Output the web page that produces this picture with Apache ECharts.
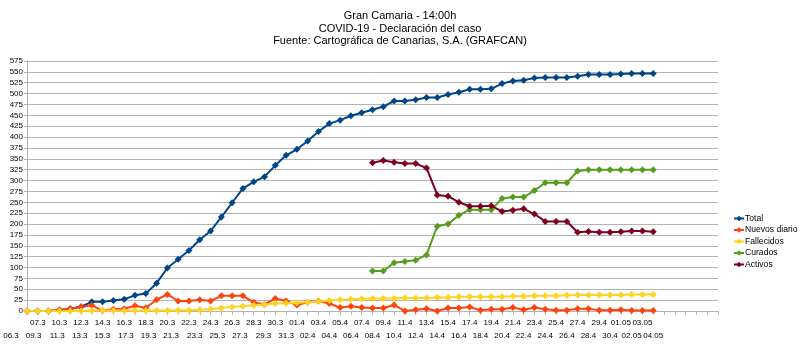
<!DOCTYPE html>
<html>
<head>
<meta charset="utf-8">
<script src="https://cdn.jsdelivr.net/npm/echarts@6/dist/echarts.min.js"></script>
<style>
html,body{margin:0;padding:0;background:#fff;}
#chart{width:800px;height:346px;}
</style>
</head>
<body>
<div id="chart"></div>
<script>
// Categories (08.3 is absent in the source data)
var dates = ['06.3','07.3','09.3','10.3','11.3','12.3','13.3','14.3','15.3','16.3','17.3','18.3','19.3','20.3','21.3','22.3','23.3','24.3','25.3','26.3','27.3','28.3','29.3','30.3','31.3',
  '01.4','02.4','03.4','04.4','05.4','06.4','07.4','08.4','09.4','10.4','11.4','12.4','13.4','14.4','15.4','16.4','17.4','18.4','19.4','20.4','21.4','22.4','23.4','24.4','25.4','26.4','27.4','28.4','29.4','30.4',
  '01.05','02.05','03.05','04.05'];
var seriesNames = ['Total','Nuevos diario','Fallecidos','Curados','Activos'];
var total = [0,0,0,2,5,10,21,21,24,27,36,40,64,99,119,139,164,184,216,249,282,297,309,335,358,
  372,391,413,431,439,449,456,463,470,483,483,486,491,491,498,503,510,510,511,523,529,531,536,537,537,537,540,544,544,544,
  545,546,546,546];
var nuevos = [0,0,0,3,5,9,13,1,4,5,12,7,26,38,23,23,26,23,35,35,35,20,15,29,23,
  14,20,23,17,8,11,8,7,7,14,0,3,5,0,7,7,9,2,4,4,8,3,8,4,2,2,5,5,2,2,
  3,1,1,1];
var fallecidos = [0,0,0,0,0,0,1,1,1,1,1,1,1,1,2,2,3,4,7,9,11,13,15,17,18,
  19,20,22,24,26,27,28,29,29,29,30,30,30,31,31,33,33,33,33,33,34,34,35,35,35,36,37,37,37,37,
  37,38,38,38];
var curados = [null,null,null,null,null,null,null,null,null,null,null,null,null,null,null,null,null,null,null,null,null,null,null,null,null,
  null,null,null,null,null,null,null,92,92,111,114,117,129,195,200,220,233,233,233,259,262,262,277,295,295,295,322,325,325,325,
  325,325,325,325];
var activos = [null,null,null,null,null,null,null,null,null,null,null,null,null,null,null,null,null,null,null,null,null,null,null,null,null,
  null,null,null,null,null,null,null,341,346,342,339,339,329,267,264,250,241,241,242,229,232,235,223,206,206,206,181,183,181,181,
  182,184,184,182];
var colors = ['#004586','#ff420e','#ffd320','#579d1c','#7e0021'];
var extraSlots = 6; // empty categories at the right end of the axis

var axisCats = dates.slice();
for (var i = 0; i < extraSlots; i++) axisCats.push('');

var font = 'Liberation Sans, Arial, sans-serif';
// rich styles used to nudge the lower-row labels leftwards near the start (as in the source layout)
var rich = {};
for (var p = 0; p <= 40; p += 2) {
  rich['p' + p] = {padding: [0, p, 0, 0], fontFamily: font, fontSize: 8, color: '#000', lineHeight: 13};
}

var chart = echarts.init(document.getElementById('chart'), null, {renderer: 'canvas'});
var values = [total, nuevos, fallecidos, curados, activos];
var series = seriesNames.map(function (n, i) {
  return {
    name: n, type: 'line', data: values[i],
    symbol: 'diamond', symbolSize: 7,
    lineStyle: {width: 2, color: colors[i]},
    itemStyle: {color: colors[i]},
    connectNulls: false,
    animation: false
  };
});

chart.setOption({
  animation: false,
  color: colors,
  title: {
    text: 'Gran Camaria - 14:00h\nCOVID-19 - Declaración del caso\nFuente: Cartográfica de Canarias, S.A. (GRAFCAN)',
    left: 'center', top: 5,
    textStyle: {fontFamily: font, fontSize: 11, fontWeight: 'normal', color: '#000', lineHeight: 12.5}
  },
  legend: {
    orient: 'vertical', left: 733, top: 214, padding: 0,
    itemWidth: 10, itemHeight: 7, itemGap: 2.5,
    textStyle: {fontFamily: font, fontSize: 8.6, color: '#000', padding: [0, 0, 0, -4]},
    data: seriesNames
  },
  grid: {left: 27, right: 82, top: 61, bottom: 35, containLabel: false},
  xAxis: {
    type: 'category', data: axisCats, boundaryGap: false,
    axisLine: {lineStyle: {color: '#b3b3b3'}},
    axisTick: {show: true, interval: 0, length: 4, lineStyle: {color: '#b3b3b3'}},
    splitLine: {show: false},
    axisLabel: {
      interval: 0, fontFamily: font, fontSize: 8, color: '#000', margin: 5, lineHeight: 13,
      rich: rich,
      formatter: function (v, idx) {
        if (!v) return '';
        if (idx % 2) return v;
        var pad = idx < 24 ? Math.round((24 - idx) / 24 * 16) * 2 : 0;
        return '\n{p' + pad + '|' + v + '}';
      }
    }
  },
  yAxis: {
    type: 'value', min: 0, max: 575, interval: 25,
    axisLine: {show: true, lineStyle: {color: '#b3b3b3'}},
    axisTick: {show: true, length: 3, lineStyle: {color: '#b3b3b3'}},
    splitLine: {lineStyle: {color: '#b3b3b3', width: 1}},
    axisLabel: {fontFamily: font, fontSize: 8, color: '#000', margin: 4}
  },
  series: series
});
</script>
</body>
</html>
